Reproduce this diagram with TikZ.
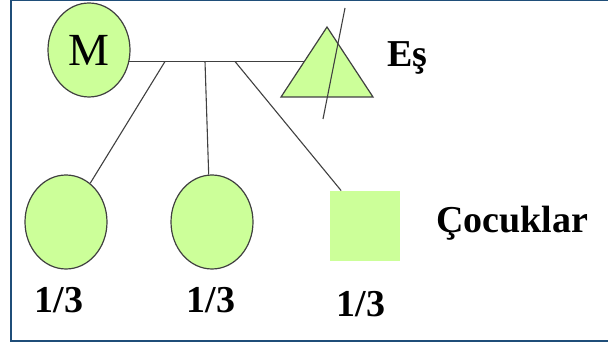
\documentclass[tikz,border=0pt]{standalone}
\usepackage{fontspec}
\setmainfont{Liberation Serif}
\usepackage{tikz}
\usetikzlibrary{shapes.geometric,calc}

\definecolor{leafgreen}{HTML}{CCFF99}
\definecolor{frameblue}{HTML}{1F4E79}
\definecolor{linegray}{HTML}{404040}

\tikzset{
  person/.style={ellipse,draw=linegray,fill=leafgreen,line width=0.6pt,
    minimum width=41pt,minimum height=47pt,inner sep=0pt},
  son/.style={rectangle,fill=leafgreen,minimum size=35pt,inner sep=0pt},
  kin/.style={linegray,line width=0.55pt},
  share/.style={font=\fontsize{19}{22}\selectfont\bfseries,anchor=base,inner sep=0pt},
  tag/.style={font=\fontsize{19}{22}\selectfont\bfseries,anchor=base west,inner sep=0pt}
}

\begin{document}
\begin{tikzpicture}[x=0.5pt,y=-0.5pt]
\useasboundingbox (0,0) rectangle (608,346);
% Frame
\draw[frameblue,line width=1pt] (608,0) -- (11,0) -- (11,341) -- (608,341);

% Deceased
\node[person,font=\fontsize{23}{26}\selectfont] (M) at (89,50) {M};

% Spouse (crossed out)
\coordinate (apex) at (327,27);
\coordinate (bl) at (281,97);
\coordinate (br) at (373,97);
\draw[kin,fill=leafgreen,line width=0.6pt] (bl) -- (apex) -- (br) -- cycle;
\coordinate (s1) at (345,8);
\coordinate (s2) at (323,119);
\draw[kin] (s1) -- (s2);
\node[tag] (es) at (387,67) {Eş};

% Marriage line
\coordinate (mid) at ($(bl)!0.5!(apex)$);
\draw[kin] (M.-16) -- (M.-16 -| mid);

% Children
\node[person] (c1) at (66,222) {};
\node[person] (c2) at (212,222) {};
\node[son] (c3) at (365,226) {};
\coordinate (k1) at (165,61.5);
\coordinate (k2) at (205,61.5);
\coordinate (k3) at (235,61.5);
\draw[kin] (k1) -- (c1.58);
\draw[kin] (k2) -- (c2.94);
\draw[kin] (k3) -- (c3.124);
\node[tag] (cocuk) at (436,233) {Çocuklar};

% Shares
\node[share] (f1) at (59,312) {1/3};
\node[share] (f2) at (211,312) {1/3};
\node[share] (f3) at (361,316) {1/3};
\end{tikzpicture}
\end{document}
